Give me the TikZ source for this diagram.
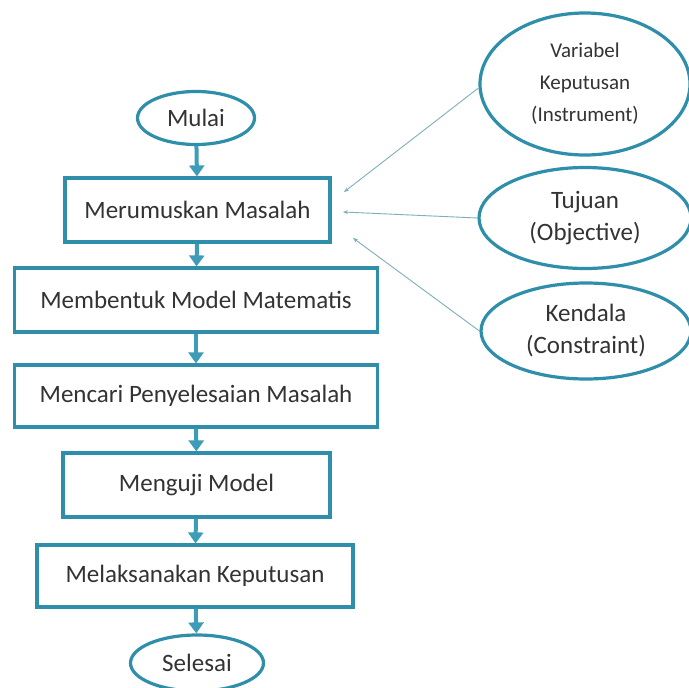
\documentclass[tikz,border=0pt]{standalone}
\usepackage{fontspec}
\setmainfont{Carlito}
\usetikzlibrary{shapes.geometric,arrows.meta}
\definecolor{teal1}{HTML}{2F8FAA}
\definecolor{arr}{HTML}{3D9DB8}
\definecolor{thin}{HTML}{7FAFB8}
\definecolor{txt}{HTML}{333333}
\begin{document}
\begin{tikzpicture}[x=1pt,y=-1pt,
  stepbox/.style={draw=teal1,line width=3.2pt,rectangle,inner sep=0pt,text=txt,font=\fontsize{25}{30}\selectfont},
  oval/.style={draw=teal1,line width=3.2pt,ellipse,inner sep=0pt,text=txt},
  flow/.style={draw=arr,line width=4pt,-{Triangle[length=11pt,width=15pt]}},
  feed/.style={draw=thin,line width=0.9pt,-{Stealth[length=5pt,width=4pt]}}]
\useasboundingbox (0,0) rectangle (688,688);
\fill[white] (0,0) rectangle (688,688);
\node[oval,minimum width=117pt,minimum height=53pt,font=\fontsize{25}{30}\selectfont] (mulai) at (196,118) {Mulai};
\node[stepbox,minimum width=265pt,minimum height=64pt] (m1) at (197.5,210) {Merumuskan Masalah};
\node[stepbox,minimum width=363pt,minimum height=64pt] (m2) at (196,300) {Membentuk Model Matematis};
\node[stepbox,minimum width=363pt,minimum height=62pt] (m3) at (196,396) {Mencari Penyelesaian Masalah};
\node[stepbox,minimum width=267pt,minimum height=64pt] (m4) at (196.5,485) {Menguji Model};
\node[stepbox,minimum width=316pt,minimum height=62pt] (m5) at (195,576) {Melaksanakan Keputusan};
\node[oval,minimum width=133pt,minimum height=56pt,font=\fontsize{25}{30}\selectfont] (selesai) at (197,663) {Selesai};
\node[oval,minimum width=210pt,minimum height=142pt,align=center,font=\fontsize{21}{32}\selectfont] (var) at (585,84) {Variabel\\Keputusan\\(Instrument)};
\node[oval,minimum width=212pt,minimum height=101pt,align=center,font=\fontsize{25}{32}\selectfont] (tuj) at (585,218) {Tujuan\\(Objective)};
\node[oval,minimum width=210pt,minimum height=96pt,align=center,font=\fontsize{25}{32}\selectfont] (ken) at (586,331) {Kendala\\(Constraint)};
\coordinate (a1) at (344,192);
\coordinate (a2) at (343,212);
\coordinate (a3) at (353,238);
\draw[flow] (mulai) -- (m1);
\draw[flow] (m1) -- (m2);
\draw[flow] (m2) -- (m3);
\draw[flow] (m3) -- (m4);
\draw[flow] (m4) -- (m5);
\draw[flow] (m5) -- (selesai);
\draw[feed] (var.west) ++(0,4) -- (a1);
\draw[feed] (tuj.west) -- (a2);
\draw[feed] (ken.west) -- (a3);
\end{tikzpicture}
\end{document}
